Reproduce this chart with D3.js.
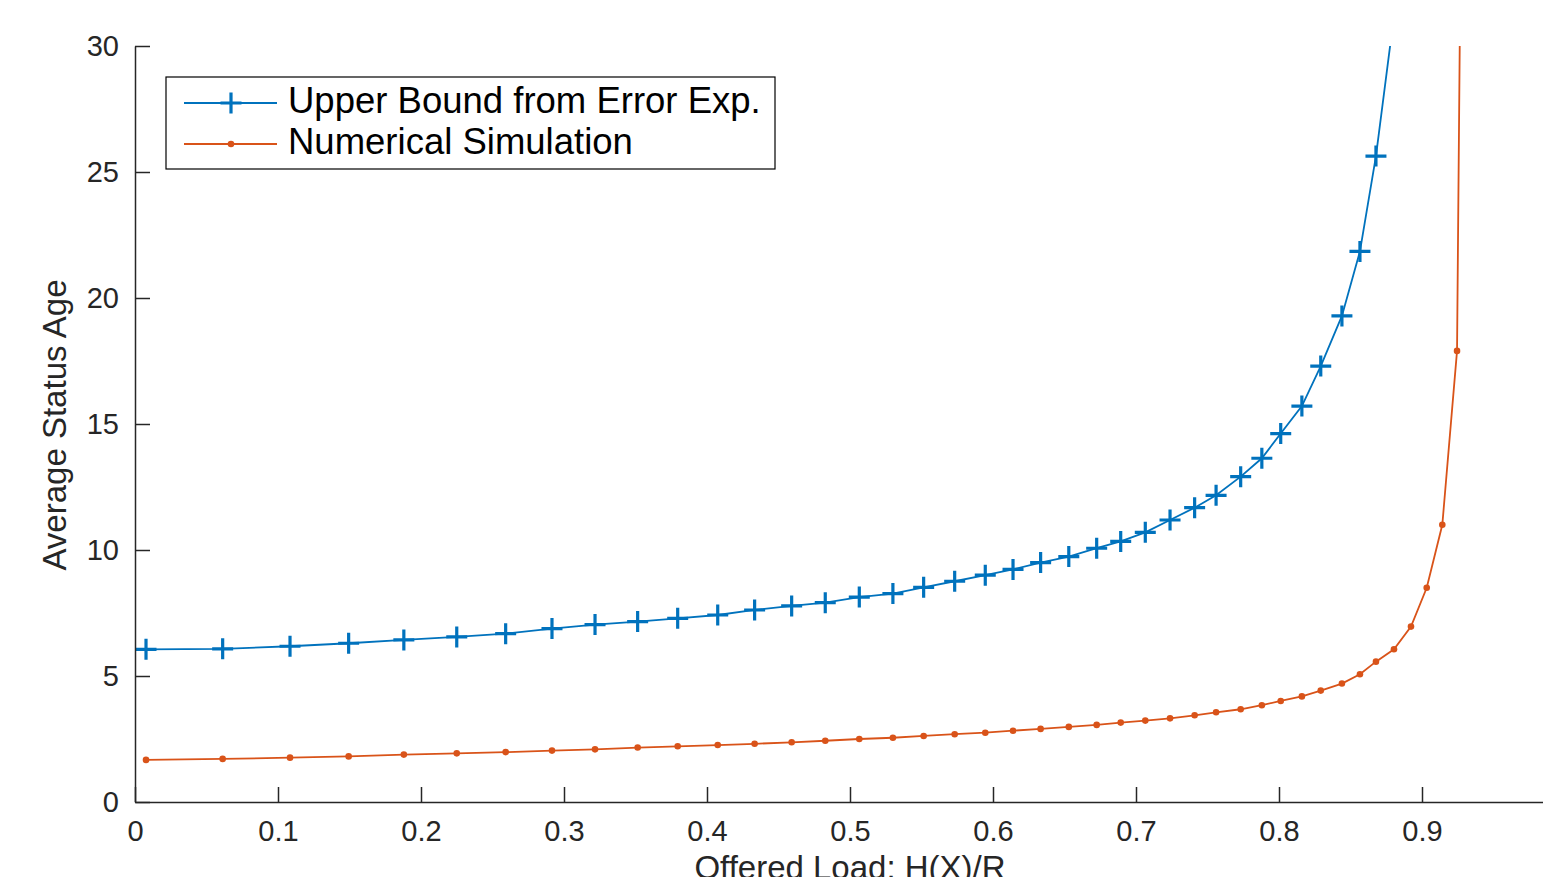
<!DOCTYPE html>
<html>
<head>
<meta charset="utf-8">
<script src="https://cdn.jsdelivr.net/npm/d3@7"></script>
<style>
  html, body { margin: 0; padding: 0; background: #fff; overflow: hidden; }
  svg { display: block; font-family: Helvetica, Arial, "Liberation Sans", sans-serif; }
</style>
</head>
<body>
<div id="wrapper"></div>
<script>
// offered load H(X)/R (shared x grid of both series)
const loads = [0.0077, 0.0613, 0.1084, 0.1494, 0.188, 0.225, 0.2592, 0.2916, 0.3217, 0.3515,
  0.3795, 0.4075, 0.4333, 0.4592, 0.4827, 0.5065, 0.530, 0.5515, 0.5732, 0.5946,
  0.614, 0.6333, 0.653, 0.6725, 0.6893, 0.7065, 0.7238, 0.741, 0.756, 0.7732,
  0.788, 0.8012, 0.816, 0.8292, 0.844, 0.8566, 0.8678, 0.8804, 0.8923, 0.9033,
  0.9142, 0.9245, 0.934];

// upper bound from error exponent (goes off the top after x~0.88)
const upperBound = [6.06, 6.08, 6.18, 6.30, 6.43, 6.55, 6.68, 6.88, 7.04, 7.16,
  7.29, 7.42, 7.62, 7.78, 7.91, 8.13, 8.27, 8.52, 8.76, 9.00,
  9.23, 9.50, 9.74, 10.07, 10.34, 10.70, 11.19, 11.68, 12.17, 12.91,
  13.64, 14.62, 15.71, 17.30, 19.29, 21.85, 25.63, 31.2];

// numerical simulation
const simulation = [1.67, 1.71, 1.76, 1.81, 1.88, 1.93, 1.98, 2.04, 2.09, 2.16,
  2.21, 2.26, 2.31, 2.37, 2.43, 2.50, 2.55, 2.62, 2.69, 2.75,
  2.83, 2.90, 2.98, 3.06, 3.15, 3.23, 3.32, 3.44, 3.56, 3.68,
  3.84, 4.01, 4.19, 4.42, 4.70, 5.07, 5.57, 6.06, 6.96, 8.50,
  11.0, 17.9, 79];

const xTicks = [0, 0.1, 0.2, 0.3, 0.4, 0.5, 0.6, 0.7, 0.8, 0.9];
const yTicks = [0, 5, 10, 15, 20, 25, 30];
const seriesNames = ["Upper Bound from Error Exp.", "Numerical Simulation"];

const blue = "#0072BD";
const orange = "#D95319";
const axisColor = "#262626";

const width = 1543, height = 877;
const plot = { left: 135, right: 1565, top: 46, bottom: 802 };

const svg = d3.select("#wrapper").append("svg")
  .attr("width", width)
  .attr("height", height);

const xScale = d3.scaleLinear().domain([0, 1]).range([plot.left, plot.right]);
const yScale = d3.scaleLinear().domain([0, 30]).range([plot.bottom, plot.top]);

svg.append("clipPath").attr("id", "clip")
  .append("rect")
  .attr("x", plot.left).attr("y", plot.top)
  .attr("width", plot.right - plot.left).attr("height", plot.bottom - plot.top);

const upperData = upperBound.map((v, i) => ({ x: loads[i], y: v }));
const simData = simulation.map((v, i) => ({ x: loads[i], y: v }));

const line = d3.line().x(d => xScale(d.x)).y(d => yScale(d.y));

const marks = svg.append("g").attr("clip-path", "url(#clip)");

// simulation line + dots
marks.append("path")
  .datum(simData)
  .attr("d", line)
  .attr("fill", "none")
  .attr("stroke", orange)
  .attr("stroke-width", 1.8);

marks.selectAll(".dot")
  .data(simData)
  .enter().append("circle")
  .attr("class", "dot")
  .attr("cx", d => xScale(d.x))
  .attr("cy", d => yScale(d.y))
  .attr("r", 3.3)
  .attr("fill", orange);

// upper bound line + plus markers
marks.append("path")
  .datum(upperData)
  .attr("d", line)
  .attr("fill", "none")
  .attr("stroke", blue)
  .attr("stroke-width", 1.8);

const plusSize = 10.5;
marks.selectAll(".plus")
  .data(upperData)
  .enter().append("path")
  .attr("class", "plus")
  .attr("transform", d => `translate(${xScale(d.x)},${yScale(d.y)})`)
  .attr("d", `M${-plusSize},0H${plusSize}M0,${-plusSize}V${plusSize}`)
  .attr("stroke", blue)
  .attr("stroke-width", 3.2)
  .attr("fill", "none");

// axes, ticks pointing inward
const xAxisGen = d3.axisBottom(xScale)
  .tickValues(xTicks)
  .tickFormat(d => d === 0 ? "0" : d3.format(".1f")(d))
  .tickSizeInner(-15)
  .tickSizeOuter(0)
  .tickPadding(18);

const xAxis = svg.append("g")
  .attr("transform", `translate(0,${plot.bottom})`)
  .call(xAxisGen);

const yAxisGen = d3.axisLeft(yScale)
  .tickValues(yTicks)
  .tickSizeInner(-15)
  .tickSizeOuter(0)
  .tickPadding(16);

const yAxis = svg.append("g")
  .attr("transform", `translate(${plot.left},0)`)
  .call(yAxisGen);

[xAxis, yAxis].forEach(ax => {
  ax.select(".domain").attr("stroke", axisColor).attr("stroke-width", 1.5);
  ax.selectAll(".tick line").attr("stroke", axisColor).attr("stroke-width", 1.5);
  ax.selectAll(".tick text")
    .attr("fill", axisColor)
    .attr("font-size", "29px")
    .attr("font-family", "Helvetica, Arial, 'Liberation Sans', sans-serif");
});

// axis labels
svg.append("text")
  .attr("x", (plot.left + plot.right) / 2)
  .attr("y", 879)
  .attr("text-anchor", "middle")
  .attr("font-size", "33px")
  .attr("fill", axisColor)
  .text("Offered Load: H(X)/R");

svg.append("text")
  .attr("transform", "translate(66,425) rotate(-90)")
  .attr("text-anchor", "middle")
  .attr("font-size", "33px")
  .attr("fill", axisColor)
  .text("Average Status Age");

// legend
const legend = svg.append("g");
legend.append("rect")
  .attr("x", 166).attr("y", 77)
  .attr("width", 609).attr("height", 92)
  .attr("fill", "#fff")
  .attr("stroke", "#000")
  .attr("stroke-width", 1.2);

const legendRows = [
  { name: seriesNames[0], color: blue, marker: "plus", y: 103 },
  { name: seriesNames[1], color: orange, marker: "dot", y: 144 },
];

legendRows.forEach(row => {
  const g = legend.append("g").attr("transform", `translate(0,${row.y})`);
  g.append("line")
    .attr("x1", 184).attr("x2", 277)
    .attr("y1", 0).attr("y2", 0)
    .attr("stroke", row.color)
    .attr("stroke-width", 1.8);
  if (row.marker === "plus") {
    g.append("path")
      .attr("transform", "translate(231,0)")
      .attr("d", `M${-plusSize},0H${plusSize}M0,${-plusSize}V${plusSize}`)
      .attr("stroke", row.color)
      .attr("stroke-width", 3.2);
  } else {
    g.append("circle")
      .attr("cx", 231).attr("cy", 0).attr("r", 3.3)
      .attr("fill", row.color);
  }
  g.append("text")
    .attr("x", 288)
    .attr("y", 10)
    .attr("font-size", "36.5px")
    .attr("fill", "#000")
    .text(row.name);
});
</script>
</body>
</html>
